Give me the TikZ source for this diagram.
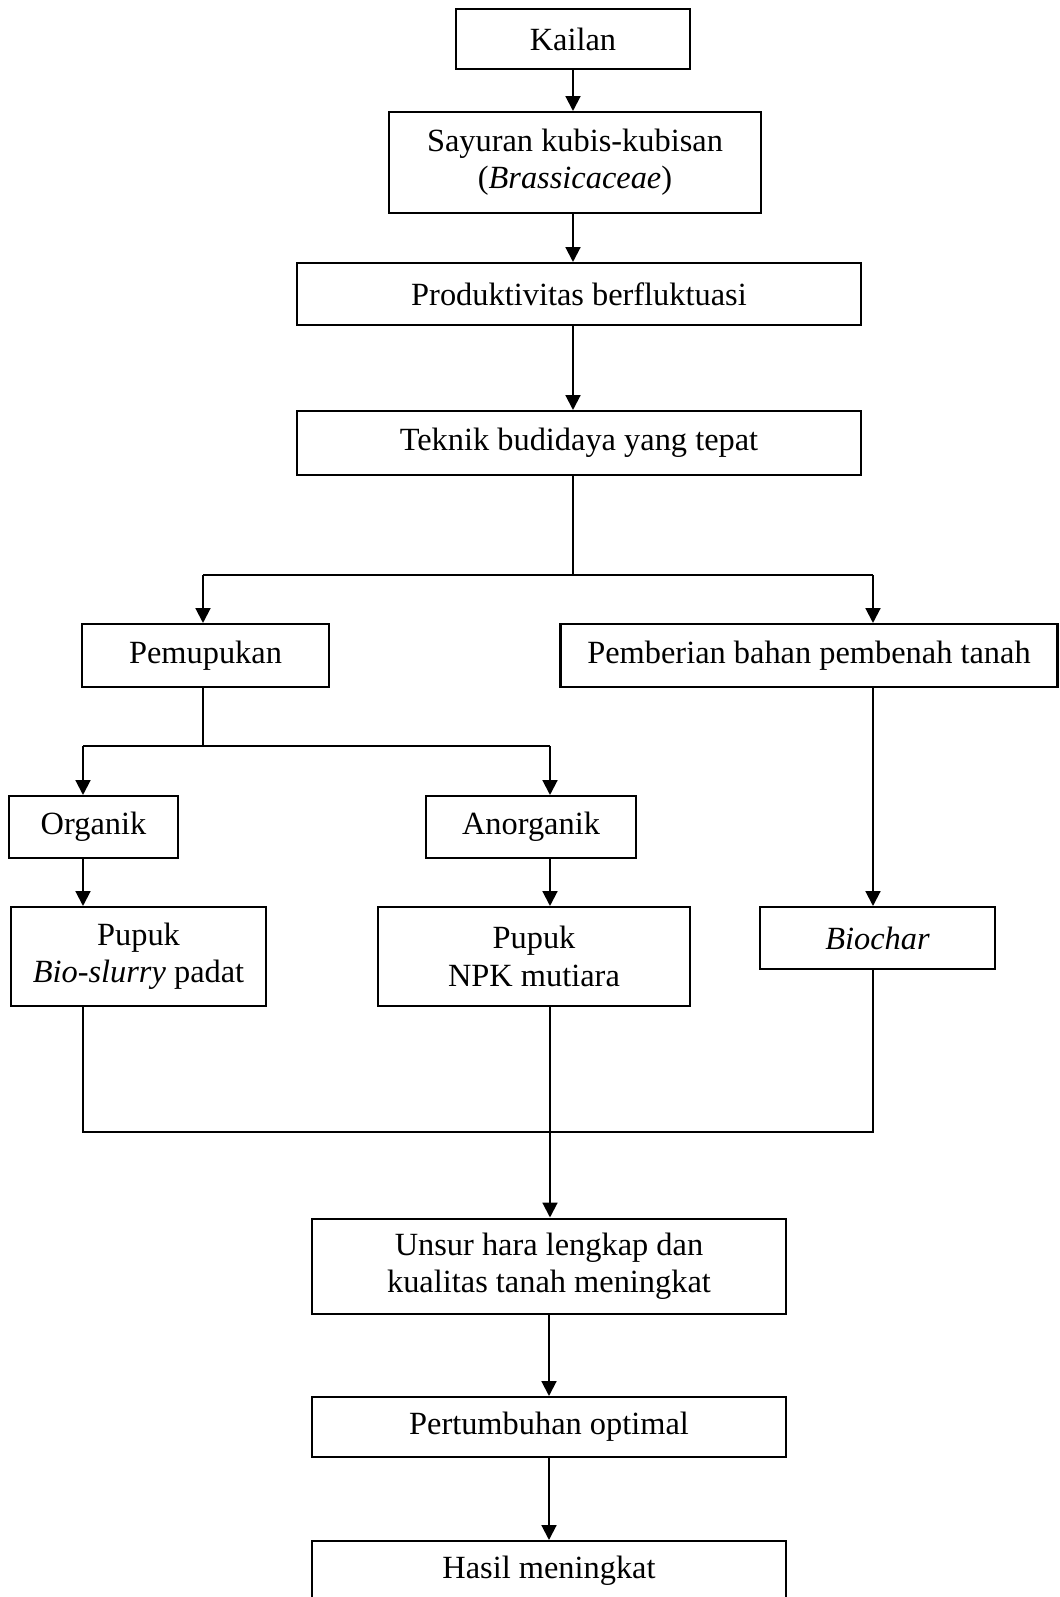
\documentclass[tikz,border=0pt]{standalone}
\usepackage{fontspec}
\setmainfont{Liberation Serif}
\usetikzlibrary{arrows.meta,positioning,calc}
\newlength{\pxu}
\setlength{\pxu}{0.3705pt}
\tikzset{
  every picture/.style={font=\fontsize{12}{13.8}\selectfont},
  box/.style={draw, line width=0.75pt, align=center, inner sep=0pt, minimum width=#1},
  box/.default=60\pxu,
  arrow/.style={-{Triangle[length=5.5pt, width=5.5pt]}, line width=0.75pt},
  link/.style={line width=0.4pt},
}

\begin{document}
\begin{tikzpicture}[x=\pxu, y=-\pxu]
  \useasboundingbox (0,0) rectangle (1060,1597);

  \node[box=234\pxu, minimum height=60\pxu] (kailan) at (573,39) {Kailan};
  \node[box=372\pxu, minimum height=101\pxu] (sayuran) at (575,162.5) {Sayuran kubis-kubisan\\(\textit{Brassicaceae})};
  \node[box=564\pxu, minimum height=62\pxu] (produk) at (579,294) {Produktivitas berfluktuasi};
  \node[box=564\pxu, minimum height=64\pxu] (teknik) at (579,443) {Teknik budidaya yang tepat};

  \node[box=247\pxu, minimum height=63\pxu] (pupuk) at (205.5,655.5) {Pemupukan};
  \node[box=497\pxu, minimum height=63\pxu] (pembenah) at (809,655.5) {Pemberian bahan pembenah tanah};

  \node[box=169\pxu, minimum height=62\pxu] (organik) at (93.5,827) {Organik};
  \node[box=210\pxu, minimum height=62\pxu] (anorganik) at (531,827) {Anorganik};

  \node[box=255\pxu, minimum height=99\pxu] (bioslurry) at (138.5,956.5) {Pupuk\\\textit{Bio-slurry} padat};
  \node[box=312\pxu, minimum height=99\pxu] (npk) at (534,956.5) {Pupuk\\NPK mutiara};
  \node[box=235\pxu, minimum height=62\pxu] (biochar) at (877.5,938) {\textit{Biochar}};

  \node[box=474\pxu, minimum height=95\pxu] (unsur) at (549,1266) {Unsur hara lengkap dan\\kualitas tanah meningkat};
  \node[box=474\pxu, minimum height=60\pxu] (tumbuh) at (549,1427) {Pertumbuhan optimal};
  \node[box=474\pxu, minimum height=60\pxu] (hasil) at (549,1571) {Hasil meningkat};

  \coordinate (spine) at (573,575);
  \coordinate (bl) at (203,575);
  \coordinate (br) at (873,575);
  \coordinate (ml) at (83,746);
  \coordinate (mc) at (203,746);
  \coordinate (mr) at (550,746);
  \coordinate (jl) at (83,1132);
  \coordinate (jm) at (550,1132);
  \coordinate (jr) at (873,1132);

  \draw[arrow] (kailan.south -| spine) -- (sayuran.north -| spine);
  \draw[arrow] (sayuran.south -| spine) -- (produk.north -| spine);
  \draw[arrow] (produk.south -| spine) -- (teknik.north -| spine);

  \draw[link] (teknik.south -| spine) -- (spine);
  \draw[link] (bl) -- (br);
  \draw[arrow] (bl) -- (pupuk.north -| bl);
  \draw[arrow] (br) -- (pembenah.north -| br);

  \draw[link] (pupuk.south -| mc) -- (mc);
  \draw[link] (ml) -- (mr);
  \draw[arrow] (ml) -- (organik.north -| ml);
  \draw[arrow] (mr) -- (anorganik.north -| mr);

  \draw[arrow] (organik.south -| ml) -- (bioslurry.north -| ml);
  \draw[arrow] (anorganik.south -| mr) -- (npk.north -| mr);
  \draw[arrow] (pembenah.south -| br) -- (biochar.north -| br);

  \draw[link] (bioslurry.south -| jl) -- (jl) -- (jr) -- (biochar.south -| jr);
  \draw[link] (npk.south -| jm) -- (jm);
  \draw[arrow] (jm) -- (unsur.north -| jm);
  \draw[arrow] (unsur) -- (tumbuh);
  \draw[arrow] (tumbuh) -- (hasil);
\end{tikzpicture}
\end{document}
